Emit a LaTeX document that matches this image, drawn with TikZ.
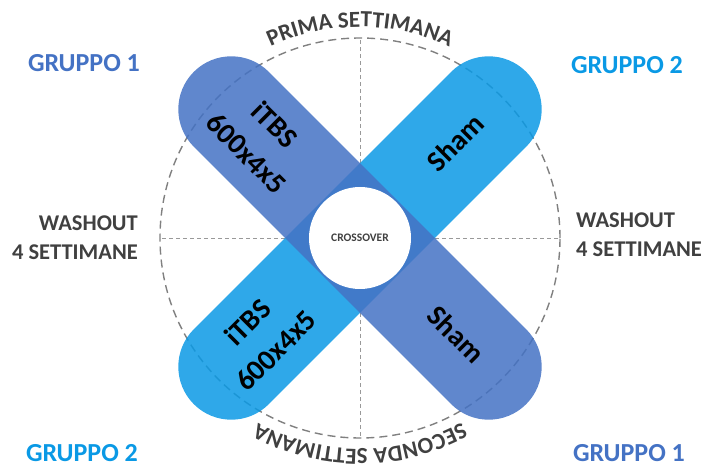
\documentclass[tikz,border=0pt]{standalone}
\usepackage{fontspec}
\setmainfont{Carlito}
\usepackage{xcolor}
\usetikzlibrary{decorations.text}
\definecolor{grpdark}{RGB}{68,114,196}
\definecolor{grplight}{RGB}{10,153,229}
\definecolor{txtgray}{RGB}{64,64,64}
\definecolor{linegray}{RGB}{128,128,128}

\begin{document}
\begin{tikzpicture}[x=1pt,y=1pt,
  grp/.style={font=\fontsize{26}{30}\selectfont\bfseries},
  wash/.style={font=\fontsize{22.5}{29}\selectfont\bfseries,text=txtgray,inner sep=0},
  pill/.style={fill opacity=.85},
  pilltxt/.style={font=\fontsize{29}{40}\selectfont\bfseries,align=center},
  spoke/.style={draw=linegray!80,line width=.9pt,dash pattern=on 4pt off 3pt},
  rim/.style={draw=linegray,line width=1.4pt,dash pattern=on 8pt off 5pt}]
\useasboundingbox (-360,-230) rectangle (349,238);
\draw[rim] (0,0) circle[radius=200];
\foreach \a in {0,90,180,270}
  \draw[spoke] (\a:75) -- (\a:200);
\fill[grplight,pill,rotate=45] (-182,-53) -- (182,-53) arc[start angle=-90,end angle=90,radius=53] -- (-182,53) arc[start angle=90,end angle=270,radius=53] -- cycle;
\fill[grpdark,pill,rotate=-45] (-182,-53) -- (182,-53) arc[start angle=-90,end angle=90,radius=53] -- (-182,53) arc[start angle=90,end angle=270,radius=53] -- cycle;
\node[circle,fill=white,minimum size=102pt,inner sep=0,font=\fontsize{11.5}{13}\selectfont\bfseries,text=txtgray] (cross) at (0,0) {CROSSOVER};
\node[pilltxt,rotate=-45] (itbsA) at (135:140) {iTBS\\600x4x5};
\node[pilltxt,rotate=45] (shamA) at (45:135) {Sham};
\node[pilltxt,rotate=45] (itbsB) at (225:139) {iTBS\\600x4x5};
\node[pilltxt,rotate=-45] (shamB) at (-45:136) {Sham};
\path[decorate,decoration={text along path,text align=center,
  text={|\fontsize{23}{28}\selectfont\bfseries\color{txtgray}|PRIMA SETTIMANA}}]
  (150:211) arc[start angle=150,end angle=30,radius=211];
\path[decorate,decoration={text along path,text align=center,
  text={|\fontsize{23}{28}\selectfont\bfseries\color{txtgray}|SECONDA SETTIMANA}}]
  (-30:211) arc[start angle=-30,end angle=-150,radius=211];
\node[grp,text=grpdark] (g1top) at (-276,175) {GRUPPO 1};
\node[grp,text=grplight] (g2top) at (267,173) {GRUPPO 2};
\node[grp,text=grplight] (g2bot) at (-278,-215) {GRUPPO 2};
\node[grp,text=grpdark] (g1bot) at (269,-215) {GRUPPO 1};
\node[wash,align=right,anchor=east] (washL) at (-222,0) {WASHOUT\\4 SETTIMANE};
\node[wash,align=left,anchor=west] (washR) at (216,3) {WASHOUT\\4 SETTIMANE};
\end{tikzpicture}
\end{document}
